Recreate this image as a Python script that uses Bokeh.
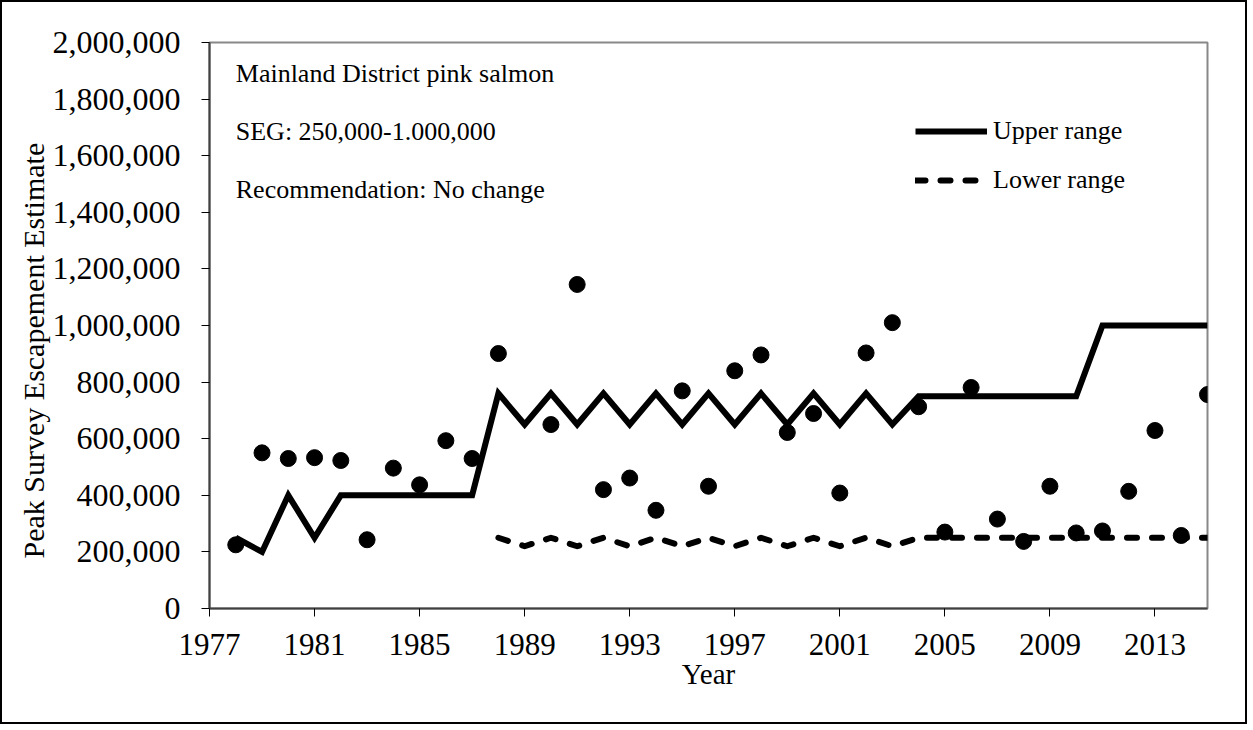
import numpy as np
from bokeh.plotting import figure
from bokeh.models import (Range1d, FixedTicker, NumeralTickFormatter, Legend, LegendItem,
                          Label, Title)
from bokeh.embed import file_html
from bokeh.resources import INLINE

# ---- data ----
years = list(range(1978, 2016))
escapement = [225000, 550000, 530000, 533000, 523000, 243000, 496000, 437000, 593000, 530000,
              901000, np.nan, 650000, 1145000, 420000, 461000, 347000, 769000, 432000, 840000,
              896000, 622000, 689000, 408000, 903000, 1010000, 713000, 270000, 781000, 316000,
              237000, 432000, 267000, 274000, 414000, 629000, 258000, 756000]
upper_range = [250000, 200000, 400000, 250000, 400000, 400000, 400000, 400000, 400000, 400000,
               760000, 650000, 760000, 650000, 760000, 650000, 760000, 650000, 760000, 650000,
               760000, 650000, 760000, 650000, 760000, 650000, 750000, 750000, 750000, 750000,
               750000, 750000, 750000, 1000000, 1000000, 1000000, 1000000, 1000000]
lower_years = list(range(1988, 2016))
lower_range = [250000, 220000, 250000, 220000, 250000, 220000, 250000, 220000, 250000, 220000,
               250000, 220000, 250000, 220000, 250000, 220000, 250000, 250000, 250000, 250000,
               250000, 250000, 250000, 250000, 250000, 250000, 250000, 250000]
x_ticks = [1977, 1981, 1985, 1989, 1993, 1997, 2001, 2005, 2009, 2013]
y_ticks = list(range(0, 2000001, 200000))
notes = ["Mainland District pink salmon", "SEG: 250,000-1.000,000", "Recommendation: No change"]
note_y = [1890000, 1685000, 1480000]
y_title = "Peak Survey Escapement Estimate"

FONT = "Liberation Serif"

p = figure(width=1247, height=724, output_backend="svg", toolbar_location=None,
           x_range=Range1d(1977, 2015), y_range=Range1d(0, 2000000),
           min_border_left=207, min_border_right=42, min_border_top=40, min_border_bottom=118)
p.styles = {"border": "2px solid black"}
p.xgrid.visible = False
p.ygrid.visible = False
p.outline_line_color = "#888888"
p.outline_line_width = 2
p.background_fill_color = "white"
p.border_fill_color = "white"

# axes
for ax in (p.xaxis[0], p.yaxis[0]):
    ax.axis_line_color = "#404040"
    ax.axis_line_width = 2
    ax.major_tick_line_color = "black"
    ax.major_tick_line_width = 1
    ax.major_tick_in = 0
    ax.major_tick_out = 8
    ax.minor_tick_line_color = None
    ax.major_label_text_font = FONT
    ax.major_label_text_color = "black"
    ax.axis_label_text_font = FONT
    ax.axis_label_text_font_style = "normal"
    ax.axis_label_text_font_size = "29px"
    ax.axis_label_text_color = "black"

p.xaxis.ticker = FixedTicker(ticks=x_ticks)
p.xaxis.major_label_text_font_size = "31px"
p.xaxis.major_label_standoff = 17
p.xaxis.axis_label = "Year"
p.xaxis.axis_label_standoff = 0

p.yaxis.ticker = FixedTicker(ticks=y_ticks)
p.yaxis.formatter = NumeralTickFormatter(format="0,0")
p.yaxis.major_label_text_font_size = "32px"
p.yaxis.major_label_standoff = 21

# y-axis title, placed like the reference (a little below the frame centre)
p.add_layout(Title(text=y_title, align="left", offset=50, text_font=FONT,
                   text_font_size="30px", text_font_style="normal", text_color="black",
                   standoff=0), "left")

# data
up = p.line(years, upper_range, line_color="black", line_width=6, line_join="miter")
lo = p.line(lower_years, lower_range, line_color="black", line_width=6, line_dash="10 15",
            line_cap="round", line_join="round")
p.scatter(years, escapement, size=16, marker="circle", fill_color="black", line_color="black")

# notes
for t, yv in zip(notes, note_y):
    p.add_layout(Label(x=1978.0, y=yv, text=t, text_font=FONT, text_font_size="26px",
                       text_color="black", text_baseline="middle", text_align="left"))

legend = Legend(items=[LegendItem(label="Upper range", renderers=[up]),
                       LegendItem(label="Lower range", renderers=[lo])],
                location=(706, 413))
legend.label_text_font = FONT
legend.label_text_font_size = "26px"
legend.label_text_color = "black"
legend.glyph_width = 72
legend.glyph_height = 30
legend.label_height = 30
legend.label_standoff = 6
legend.spacing = 19
legend.padding = 0
legend.margin = 0
legend.border_line_alpha = 0
legend.background_fill_alpha = 0
p.add_layout(legend)

open("out.html", "w").write(file_html(p, INLINE))
